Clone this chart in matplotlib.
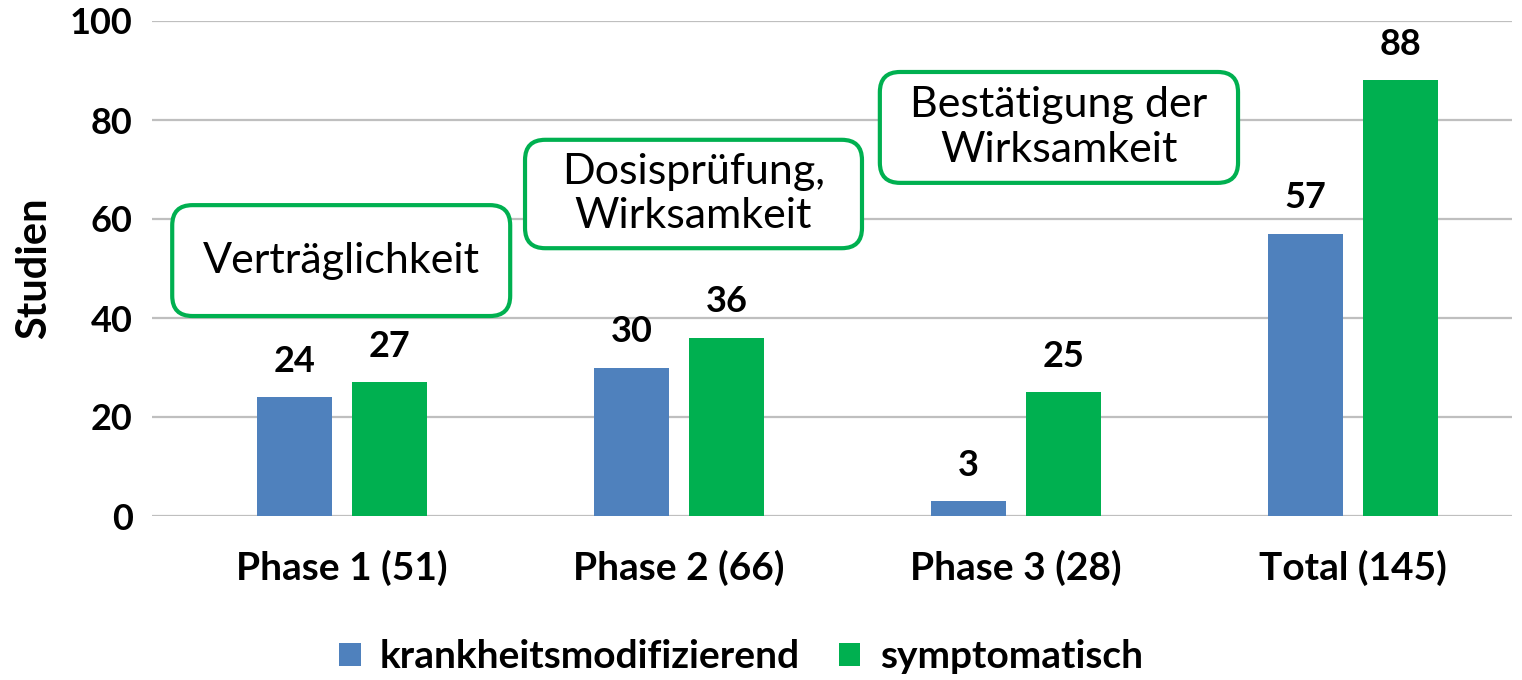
import matplotlib.pyplot as plt
from matplotlib.patches import FancyBboxPatch

plt.rcParams['font.family'] = ['Lato', 'DejaVu Sans']

categories = ["Phase 1 (51)", "Phase 2 (66)", "Phase 3 (28)", "Total (145)"]
modifying = [24, 30, 3, 57]
symptomatic = [27, 36, 25, 88]
series_names = ["krankheitsmodifizierend", "symptomatisch"]
notes = ["Verträglichkeit", "Dosisprüfung,\nWirksamkeit", "Bestätigung der\nWirksamkeit"]

BLUE = "#4F81BD"
GREEN = "#00B050"

fig = plt.figure(figsize=(15.22, 6.8), dpi=100)
ax = fig.add_axes([152 / 1522, 164 / 680, 1360 / 1522, 495 / 680])

x = list(range(len(categories)))
w = 0.22
off = 0.141
b1 = ax.bar([i - off for i in x], modifying, w, color=BLUE, label=series_names[0], zorder=3)
b2 = ax.bar([i + off for i in x], symptomatic, w, color=GREEN, label=series_names[1], zorder=3)

for bars in (b1, b2):
    for r in bars:
        ax.annotate(f"{r.get_height():.0f}", (r.get_x() + r.get_width() / 2, r.get_height()),
                    xytext=(0, 14), textcoords="offset points", ha="center", va="bottom",
                    fontsize=26, fontweight="bold")

ax.set_xlim(-0.564, 3.472)
ax.set_ylim(0, 100)
ax.set_yticks(range(0, 101, 20))
ax.set_xticks(x)
ax.set_xticklabels(categories, fontsize=28, fontweight="bold")
ax.tick_params(axis="y", labelsize=26, length=0, pad=14)
ax.tick_params(axis="x", length=0, pad=24)
for lab in ax.get_yticklabels():
    lab.set_fontweight("bold")
ax.yaxis.grid(True, color="#BFBFBF", linewidth=1.6, zorder=0)
for s in ax.spines.values():
    s.set_visible(False)
ax.set_ylabel("Studien", fontsize=30, fontweight="bold", labelpad=12)

# annotation boxes (x0, y0, x1, y1 in data units)
boxes = [(-0.504, 40.4, 0.499, 62.8), (0.543, 54.1, 1.543, 76.0), (1.596, 67.3, 2.659, 89.7)]
aspect = 337 / 4.95
for (x0, y0, x1, y1), txt in zip(boxes, notes):
    p = FancyBboxPatch((x0, y0), x1 - x0, y1 - y0,
                       boxstyle="round,pad=0,rounding_size=0.06", mutation_aspect=aspect,
                       facecolor="white", edgecolor=GREEN, linewidth=3, zorder=4)
    ax.add_patch(p)
    ax.text((x0 + x1) / 2, (y0 + y1) / 2, txt, ha="center", va="center",
            fontsize=31, linespacing=1.2, zorder=5)

fig.legend(handles=[b1, b2], loc="center", bbox_to_anchor=(741 / 1522, 1 - 657 / 680),
           ncol=2, frameon=False, prop={"size": 28, "weight": "bold"},
           handlelength=0.55, handleheight=0.55, handletextpad=0.5, columnspacing=1.0)

fig.savefig("out.png", dpi=100)
